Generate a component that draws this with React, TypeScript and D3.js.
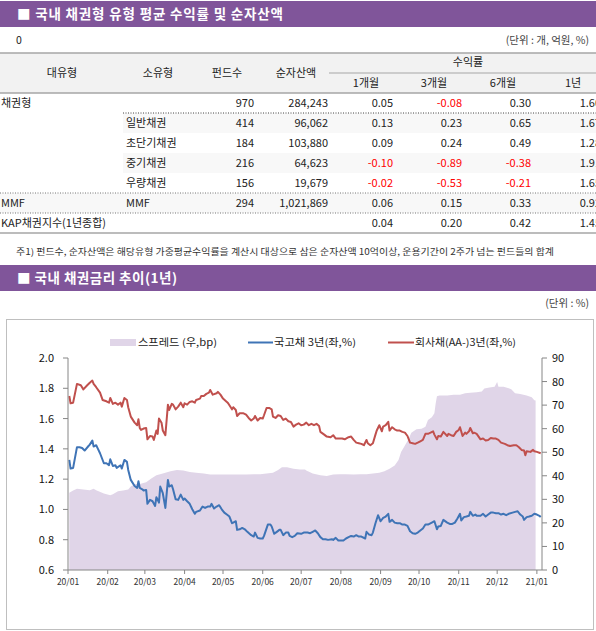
import React from 'react';
import * as d3 from 'd3';

// ---------- Table data ----------
const majorTypes = ['채권형', '', '', '', '', 'MMF', 'KAP채권지수(1년종합)'];
const minorTypes = ['', '일반채권', '초단기채권', '중기채권', '우량채권', 'MMF', ''];
const fundCounts = ['970', '414', '184', '216', '156', '294', ''];
const netAssets = ['284,243', '96,062', '103,880', '64,623', '19,679', '1,021,869', ''];
const ret1m = [0.05, 0.13, 0.09, -0.10, -0.02, 0.06, 0.04];
const ret3m = [-0.08, 0.23, 0.24, -0.89, -0.53, 0.15, 0.20];
const ret6m = [0.30, 0.65, 0.49, -0.38, -0.21, 0.33, 0.42];
const ret1y = [1.60, 1.67, 1.28, 1.91, 1.65, 0.92, 1.45];

// ---------- Chart data (day offsets from 2020-01-01) ----------
const redDays = [1,2,4,7,10,12,15,17,19,20,22,25,27,30,32,33,35,37,39,41,42,44,46,47,49,52,54,55,56,57,59,61,62,64,66,67,69,70,71,73,74,76,78,79,81,82,84,86,88,90,91,93,95,97,99,100,103,104,106,108,110,111,113,116,117,119,121,124,125,128,129,131,132,134,137,139,141,143,145,146,148,150,152,153,155,157,159,160,162,164,166,168,170,172,174,176,178,180,182,184,
186,188,190,192,194,196,197,200,202,205,207,209,212,214,216,219,221,223,225,227,229,231,233,234,236,238,240,241,243,245,246,248,250,251,253,255,257,259,261,263,265,267,269,271,273,275,277,279,281,283,285,286,288,289,291,293,296,297,299,301,303,305,306,308,310,311,313,314,316,317,319,322,324,326,328,330,332,334,336,338,341,343,345,348,350,352,354,356,357,358,361,363,364,366,369];
const redValues = [1.749,1.701,1.705,1.829,1.82,1.793,1.82,1.837,1.851,1.829,1.807,1.771,1.723,1.714,1.705,1.736,1.697,1.705,1.692,1.705,1.679,1.736,1.723,1.675,1.613,1.573,1.556,1.595,1.538,1.525,1.534,1.538,1.463,1.485,1.481,1.459,1.521,1.499,1.6,1.573,1.521,1.49,1.692,1.657,1.697,1.692,1.661,1.679,1.705,1.675,1.701,1.692,1.71,1.714,1.705,1.723,1.732,1.749,1.749,1.763,1.771,1.789,1.758,1.767,1.776,1.758,1.732,1.71,1.701,1.661,1.675,1.657,1.617,1.635,1.635,1.626,1.604,1.587,1.6,1.617,1.587,1.604,1.6,1.622,1.67,1.67,1.661,1.613,1.604,1.622,1.617,1.591,1.6,1.582,1.578,1.547,1.56,1.569,1.556,1.56,
1.573,1.556,1.565,1.556,1.565,1.551,1.512,1.494,1.481,1.477,1.49,1.468,1.468,1.468,1.463,1.477,1.481,1.459,1.441,1.437,1.433,1.424,1.459,1.437,1.424,1.437,1.494,1.521,1.556,1.516,1.547,1.556,1.578,1.521,1.543,1.529,1.521,1.521,1.512,1.507,1.485,1.441,1.437,1.433,1.441,1.45,1.459,1.499,1.499,1.507,1.516,1.494,1.463,1.485,1.481,1.512,1.485,1.499,1.49,1.485,1.512,1.525,1.543,1.485,1.507,1.499,1.516,1.538,1.503,1.507,1.499,1.463,1.468,1.455,1.459,1.472,1.468,1.468,1.459,1.441,1.433,1.424,1.419,1.424,1.424,1.411,1.393,1.389,1.358,1.384,1.38,1.393,1.384,1.38,1.371];

const blueDays = [1,2,4,7,9,11,13,16,17,19,20,22,23,25,28,30,32,33,35,37,38,41,42,44,46,47,49,52,54,55,56,58,59,61,62,64,66,68,69,71,72,74,76,78,79,81,82,84,86,88,90,91,93,95,97,99,100,103,105,107,109,111,112,114,116,118,120,122,124,126,128,129,131,132,134,136,138,140,143,145,146,148,150,152,153,156,158,159,161,163,165,166,168,170,172,173,175,177,179,182,184,
187,189,191,193,195,197,199,201,203,206,207,209,211,213,215,217,219,221,223,225,227,229,232,233,235,237,238,240,242,244,246,248,250,251,253,255,257,259,261,263,265,267,269,271,273,275,277,279,281,284,286,288,289,291,293,296,298,300,302,304,306,307,309,311,313,314,316,318,319,322,324,326,328,330,332,334,336,338,340,342,344,347,349,351,353,355,356,358,360,362,364,366,368,369];
const blueValues = [1.327,1.27,1.274,1.411,1.411,1.406,1.389,1.419,1.428,1.455,1.415,1.424,1.406,1.371,1.305,1.305,1.292,1.331,1.287,1.292,1.274,1.292,1.27,1.327,1.314,1.261,1.195,1.155,1.142,1.186,1.142,1.133,1.125,1.129,1.037,1.063,1.054,1.023,1.081,1.045,1.151,1.107,1.01,1.195,1.151,1.16,1.133,1.067,1.063,1.098,1.063,1.072,1.054,1.037,1.001,0.971,0.984,0.993,1.019,1.01,1.019,1.019,1.037,1.006,1.019,1.028,1.001,0.979,0.966,0.953,0.909,0.913,0.922,0.865,0.869,0.878,0.869,0.852,0.83,0.821,0.847,0.812,0.808,0.808,0.825,0.9,0.9,0.887,0.839,0.852,0.865,0.865,0.83,0.847,0.847,0.825,0.817,0.825,0.843,0.839,0.847,
0.847,0.843,0.852,0.861,0.843,0.817,0.803,0.803,0.799,0.803,0.799,0.812,0.795,0.795,0.795,0.808,0.817,0.825,0.821,0.83,0.821,0.821,0.808,0.852,0.834,0.83,0.847,0.909,0.962,0.922,0.944,0.953,0.971,0.918,0.931,0.913,0.909,0.909,0.9,0.9,0.891,0.856,0.843,0.839,0.847,0.861,0.874,0.9,0.9,0.913,0.922,0.869,0.887,0.891,0.931,0.913,0.904,0.904,0.913,0.94,0.971,0.927,0.949,0.953,0.958,0.984,0.958,0.966,0.958,0.958,0.971,0.953,0.966,0.979,0.979,0.975,0.975,0.966,0.971,0.962,0.971,0.979,0.984,0.988,0.966,0.953,0.931,0.949,0.953,0.958,0.971,0.966,0.958,0.949];

const spreadDays = [1,4,7,12,17,20,22,28,33,35,39,43,47,49,52,56,61,65,69,74,80,85,90,95,100,106,111,116,121,126,132,139,145,150,155,160,164,167,171,176,181,185,
186,191,197,202,207,212,217,223,228,233,238,243,247,251,255,258,260,263,266,268,272,276,279,281,284,286,287,288,290,296,301,306,310,314,319,323,325,329,333,335,336,340,344,346,349,353,358,362,364,365];
const spreadValues = [32.8,33.7,34.5,34.2,33.9,34.5,33.9,32.5,31.7,32.2,33.4,33.7,34.2,35.4,36.5,36.5,37.3,38.8,40.2,41.0,41.9,42.4,42.2,41.6,41.3,41.0,40.5,40.5,40.5,40.5,40.5,40.5,40.7,40.7,41.0,41.3,42.4,43.6,43.6,43.0,42.7,42.7,
42.2,41.0,40.2,39.9,40.5,40.7,40.7,40.5,40.7,40.7,41.0,41.3,41.9,43.0,44.4,46.7,50.1,52.9,55.7,58.3,59.7,60.0,60.8,63.7,64.8,66.5,70.7,73.8,74.1,74.1,74.4,74.4,75.0,75.3,75.5,75.8,77.0,77.5,77.8,79.8,77.8,77.8,77.2,76.7,75.0,74.7,74.1,73.3,72.1,72.0];

const leftTicks = [0.6, 0.8, 1.0, 1.2, 1.4, 1.6, 1.8, 2.0];
const rightTicks = [0, 10, 20, 30, 40, 50, 60, 70, 80, 90];
const legendLabels = ['스프레드 (우,bp)', '국고채 3년(좌,%)', '회사채(AA-)3년(좌,%)'];

const PURPLE = '#80559A';
const RED = '#C0504D';
const BLUE = '#3F74B6';
const AREA = '#E0D5E8';
const FONT = "'Noto Sans CJK KR', 'Noto Sans', sans-serif";

const start = new Date(2020, 0, 1);
const toDate = (d: number) => d3.timeDay.offset(start, d);

export default function App() {
  const x = d3.scaleTime().domain([start, new Date(2021, 0, 5)]).range([68, 542]);
  const yL = d3.scaleLinear().domain([0.6, 2.0]).range([570, 358]);
  const yR = d3.scaleLinear().domain([0, 90]).range([570, 358]);

  const redPts = redDays.map((d, i) => [toDate(d), redValues[i]] as [Date, number]);
  const bluePts = blueDays.map((d, i) => [toDate(d), blueValues[i]] as [Date, number]);
  const spreadPts = spreadDays.map((d, i) => [toDate(d), spreadValues[i]] as [Date, number]);

  const lineL = d3.line<[Date, number]>().x(p => x(p[0])).y(p => yL(p[1]));
  const area = d3.area<[Date, number]>().x(p => x(p[0])).y0(yR(0)).y1(p => yR(p[1]));
  const months = d3.timeMonth.range(start, new Date(2021, 0, 2));
  const fmt = d3.timeFormat('%y/%m');

  // table layout
  const rowTop = (i: number) => 93 + i * 20;
  const num = (v: number) => v.toFixed(2);
  const retCols = [
    { vals: ret1m, right: 393, hx: 366, label: '1개월' },
    { vals: ret3m, right: 462, hx: 434, label: '3개월' },
    { vals: ret6m, right: 531, hx: 503, label: '6개월' },
    { vals: ret1y, right: 601, hx: 573, label: '1년' },
  ];

  return (
    <svg width={596} height={631} style={{ position: 'absolute', left: 0, top: 0, background: '#fff' }}
      fontFamily={FONT}>
      {/* Section 1 title */}
      <rect x={0} y={1} width={596} height={26} fill={PURPLE} />
      <text x={17} y={19} fill="#fff" fontSize={13.5} fontWeight="bold" textLength={266} lengthAdjust="spacing">■ 국내 채권형 유형 평균 수익률 및 순자산액</text>
      <text x={16} y={44} fontSize={10.5} fill="#222">0</text>
      <text x={589} y={44} fontSize={10.5} fill="#444" textAnchor="end">(단위 : 개, 억원, %)</text>

      {/* Table header */}
      <rect x={0} y={53} width={596} height={40} fill="#F2F2F2" />
      <line x1={0} x2={596} y1={53} y2={53} stroke="#A6A6A6" strokeWidth={1.5} />
      <line x1={0} x2={596} y1={93} y2={93} stroke="#A6A6A6" strokeWidth={1.5} />
      <line x1={329} x2={596} y1={73} y2={73} stroke="#A6A6A6" strokeWidth={1} />
      <g fontSize={11} fill="#222" textAnchor="middle">
        <text x={62} y={77}>대유형</text>
        <text x={158} y={77}>소유형</text>
        <text x={227} y={77}>펀드수</text>
        <text x={296} y={77}>순자산액</text>
        <text x={468} y={66}>수익률</text>
        {retCols.map(c => <text key={c.label} x={c.hx} y={87}>{c.label}</text>)}
      </g>

      {/* Table rows */}
      {majorTypes.map((_, i) => {
        const shaded = i === 1 || i === 3 || i === 5;
        return shaded ? (
          <rect key={'bg' + i} x={i === 5 ? 0 : 123} y={rowTop(i)} width={i === 5 ? 596 : 473} height={20} fill="#F8F8F8" />
        ) : null;
      })}
      <line x1={123} x2={596} y1={113} y2={113} stroke="#444" strokeDasharray="1,1.5" />
      <line x1={0} x2={596} y1={193} y2={193} stroke="#777" strokeDasharray="1,1.5" />
      <line x1={0} x2={596} y1={213} y2={213} stroke="#777" strokeDasharray="1,1.5" />
      <line x1={0} x2={596} y1={233} y2={233} stroke="#A6A6A6" strokeWidth={1.5} />
      <g fontSize={11} fill="#222">
        {majorTypes.map((m, i) => (
          <g key={'r' + i}>
            <text x={1} y={rowTop(i) + 14}>{m}</text>
            <text x={126} y={rowTop(i) + 14}>{minorTypes[i]}</text>
            <text x={254} y={rowTop(i) + 14} textAnchor="end">{fundCounts[i]}</text>
            <text x={328} y={rowTop(i) + 14} textAnchor="end">{netAssets[i]}</text>
            {retCols.map(c => (
              <text key={c.label} x={c.right} y={rowTop(i) + 14} textAnchor="end"
                fill={c.vals[i] < 0 ? '#FF0000' : '#222'}>{num(c.vals[i])}</text>
            ))}
          </g>
        ))}
      </g>

      {/* Footnote */}
      <text x={16} y={255} fontSize={9} fill="#333" textLength={538} lengthAdjust="spacingAndGlyphs">
        주1) 펀드수, 순자산액은 해당유형 가중평균수익률을 계산시 대상으로 삼은 순자산액 10억이상, 운용기간이 2주가 넘는 펀드들의 합계
      </text>

      {/* Section 2 title */}
      <rect x={0} y={265} width={596} height={26} fill={PURPLE} />
      <text x={17} y={283} fill="#fff" fontSize={13.5} fontWeight="bold" textLength={160} lengthAdjust="spacing">■ 국내 채권금리 추이(1년)</text>
      <text x={589} y={307} fontSize={10.5} fill="#444" textAnchor="end">(단위 : %)</text>

      {/* Chart frame */}
      <rect x={6.5} y={319.5} width={587} height={310} fill="#fff" stroke="#BFBFBF" />

      {/* Legend */}
      <rect x={110} y={339} width={26} height={7} fill={AREA} />
      <text x={138} y={346} fontSize={10} fill="#222" textLength={79} lengthAdjust="spacingAndGlyphs">{legendLabels[0]}</text>
      <line x1={248} x2={273} y1={342.5} y2={342.5} stroke={BLUE} strokeWidth={2} />
      <text x={274} y={346} fontSize={10} fill="#222" textLength={82} lengthAdjust="spacingAndGlyphs">{legendLabels[1]}</text>
      <line x1={388} x2={414} y1={342.5} y2={342.5} stroke={RED} strokeWidth={2} />
      <text x={415} y={346} fontSize={10} fill="#222" textLength={101} lengthAdjust="spacingAndGlyphs">{legendLabels[2]}</text>

      {/* Spread area */}
      <path d={area(spreadPts) || ''} fill={AREA} />

      {/* Lines */}
      <path d={lineL(redPts) || ''} fill="none" stroke={RED} strokeWidth={2} strokeLinejoin="round" />
      <path d={lineL(bluePts) || ''} fill="none" stroke={BLUE} strokeWidth={2} strokeLinejoin="round" />

      {/* Left axis */}
      <line x1={68} x2={68} y1={358} y2={570} stroke="#868686" />
      {leftTicks.map(t => (
        <g key={'l' + t}>
          <line x1={63} x2={68} y1={yL(t)} y2={yL(t)} stroke="#868686" />
          <text x={54} y={yL(t) + 4} fontSize={11} fill="#111" textAnchor="end">{t.toFixed(1)}</text>
        </g>
      ))}

      {/* Right axis */}
      <line x1={542} x2={542} y1={358} y2={570} stroke="#868686" />
      {rightTicks.map(t => (
        <g key={'r' + t}>
          <line x1={542} x2={547} y1={yR(t)} y2={yR(t)} stroke="#868686" />
          <text x={552} y={yR(t) + 4} fontSize={11} fill="#111">{t}</text>
        </g>
      ))}

      {/* X axis */}
      <line x1={68} x2={542} y1={570} y2={570} stroke="#868686" />
      {months.map(m => (
        <g key={'m' + m.getTime()}>
          <line x1={x(m)} x2={x(m)} y1={570} y2={574} stroke="#868686" />
          <text x={x(m)} y={585} fontSize={8.5} fill="#333" textAnchor="middle">{fmt(m)}</text>
        </g>
      ))}
    </svg>
  );
}
